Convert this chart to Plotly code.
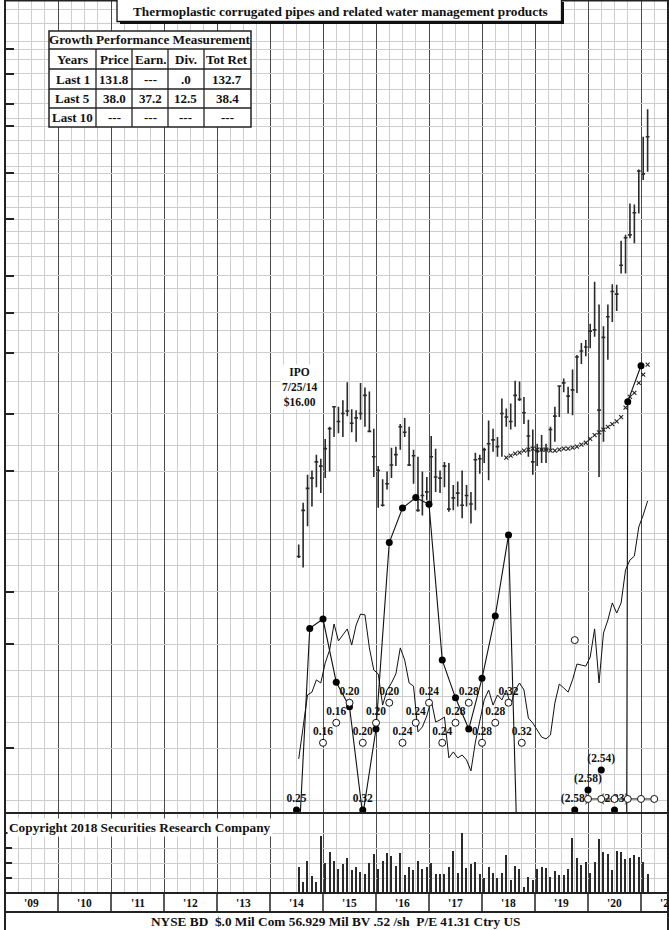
import math
import plotly.graph_objects as go

# ---------------- data ----------------
# monthly price bars, Jul 2014 .. Feb 2021
start_year, start_month, n_months = 2014, 7, 80
months = [start_year + (start_month - 1 + i + 0.5) / 12 for i in range(n_months)]

highs = [16.7, 19.8, 22.2, 22.6, 24.1, 23.7, 25.7, 27.0, 29.4, 29.3,
         30.1, 32.4, 29.0, 28.9, 32.3, 31.7, 31.2, 26.8, 23.0, 21.8,
         22.5, 24.8, 24.9, 27.3, 28.0, 27.0, 24.6, 23.9, 22.5, 22.0,
         26.0, 24.7, 22.6, 23.4, 23.3, 21.3, 21.6, 22.6, 21.3, 20.7,
         24.3, 24.1, 24.8, 27.7, 26.8, 25.9, 30.3, 29.1, 29.7, 32.6,
         32.5, 30.5, 27.8, 26.7, 25.2, 26.1, 25.2, 27.0, 29.3, 32.0,
         32.9, 31.8, 34.1, 36.2, 38.0, 38.5, 41.1, 48.8, 44.5, 40.7,
         44.5, 48.3, 48.2, 57.7, 59.1, 67.2, 66.9, 77.2, 88.2, 98.7]
lows = [15.8, 15.2, 18.0, 19.5, 21.1, 20.6, 21.9, 22.5, 25.9, 26.3,
        25.9, 28.2, 26.4, 25.4, 27.8, 27.0, 26.5, 22.0, 19.4, 19.5,
        20.9, 21.9, 23.0, 24.6, 25.9, 23.0, 21.4, 19.1, 18.8, 20.0,
        19.8, 20.7, 20.6, 21.1, 19.1, 19.2, 19.5, 18.6, 19.5, 18.2,
        19.2, 22.3, 23.3, 21.7, 24.4, 23.9, 23.9, 27.0, 26.7, 27.0,
        30.0, 27.3, 23.9, 22.2, 23.0, 23.3, 23.3, 24.6, 25.4, 28.1,
        31.1, 28.5, 28.3, 31.0, 34.9, 36.0, 37.2, 39.0, 22.0, 25.4,
        35.5, 41.4, 43.3, 50.5, 50.5, 58.3, 57.1, 64.5, 73.9, 76.5]
closes = [15.9, 19.2, 21.0, 21.9, 23.4, 23.0, 24.7, 26.8, 29.3, 27.6,
          28.5, 28.8, 27.4, 28.0, 28.5, 30.7, 26.5, 23.9, 22.6, 19.6,
          21.4, 23.1, 24.1, 27.0, 26.4, 23.1, 24.0, 19.2, 20.4, 20.7,
          23.9, 22.0, 21.9, 23.0, 19.3, 20.2, 20.6, 19.6, 20.4, 19.7,
          23.6, 23.7, 24.6, 25.2, 25.6, 24.9, 28.5, 28.1, 27.6, 30.7,
          30.2, 28.6, 26.0, 23.4, 24.4, 24.6, 24.6, 26.7, 28.2, 31.9,
          32.3, 30.6, 31.4, 35.9, 36.8, 37.4, 39.9, 40.1, 28.9, 38.9,
          42.3, 46.9, 46.4, 52.2, 58.4, 59.1, 64.7, 76.7, 75.8, 88.2]
volume = [26, 11, 32, 17, 11, 57, 30, 41, 32, 24,
          29, 35, 23, 26, 21, 19, 30, 39, 24, 32,
          40, 37, 27, 40, 18, 26, 23, 32, 24, 26,
          30, 19, 19, 19, 26, 42, 20, 60, 25, 29,
          31, 19, 15, 26, 20, 15, 20, 38, 13, 27,
          24, 6, 16, 13, 24, 26, 25, 16, 22, 18,
          18, 24, 55, 35, 28, 31, 20, 31, 54, 41,
          39, 23, 42, 41, 34, 35, 38, 36, 31, 19]
# x-marked line (starts Jun 2018)
xline_start = 47
xline = [23.8, 24.0, 24.2, 24.3, 24.5, 24.6, 24.7, 24.6, 24.6, 24.6,
         24.5, 24.5, 24.6, 24.7, 24.7, 24.8, 24.9, 25.1, 25.3, 25.7,
         26.1, 26.4, 26.7, 27.0, 27.3, 27.6, 28.1, 29.2, 30.5, 31.0,
         32.3, 33.4, 34.8]
# relative strength line (lower scale units)
rs = [1.58, 2.88, 4.04, 4.15, 4.62, 4.50, 5.27, 5.77, 6.77, 6.12,
      6.35, 6.58, 5.96, 6.73, 7.15, 7.12, 5.85, 5.00, 4.85, 3.65,
      4.23, 4.50, 4.85, 5.85, 5.38, 4.50, 4.38, 2.62, 2.81, 3.23,
      3.85, 3.00, 3.08, 3.19, 1.62, 1.85, 1.62, 1.73, 1.54, 1.12,
      2.23, 3.00, 3.85, 4.23, 3.65, 4.04, 3.85, 4.23, 3.65, 4.23,
      4.50, 4.23, 3.15, 2.96, 2.69, 2.42, 2.35, 2.50, 3.73, 4.46,
      4.31, 4.15, 4.62, 5.23, 5.19, 5.15, 5.50, 6.58, 4.50, 6.42,
      6.92, 7.58, 7.19, 7.58, 8.85, 9.23, 9.38, 10.50, 10.96, 11.50]
# earnings line (quarterly, lower scale units; below-range values run off the chart)
earn_line_x = [2014.57, 2014.75, 2015.0, 2015.25, 2015.5, 2015.75, 2016.0, 2016.25, 2016.5,
               2016.75, 2017.0, 2017.25, 2017.5, 2017.75, 2018.0, 2018.25, 2018.5, 2018.75,
               None, 2020.73, 2020.75, 2021.0]
earn_line_v = [-0.6, 6.60, 6.96, 4.53, 3.59, -0.6, 2.73, 9.90, 11.23,
               11.63, 11.37, 5.38, 3.93, 2.73, 4.68, 7.08, 10.19, -8.2,
               None, -0.6, 15.32, 16.70]
earn_dot_x = [2014.75, 2015.0, 2015.25, 2015.5, 2016.0, 2016.25, 2016.5, 2016.75, 2017.0,
              2017.25, 2017.5, 2017.75, 2018.0, 2018.25, 2018.5, 2020.0, 2020.25, 2020.75, 2021.0]
earn_dot_v = [6.60, 6.96, 4.53, 3.59, 2.73, 9.90, 11.23, 11.63, 11.37,
              5.38, 3.93, 2.73, 4.68, 7.08, 10.19, 0.38, 1.15, 15.32, 16.70]
earn_dot_lbl = [""] * 15 + ["(2.58)", "(2.54)", "", ""]
floor_x = [2014.5, 2015.75, 2019.75, 2020.5]
floor_lbl = ["0.25", "0.32", "(2.58)", "(2.33)"]
floor_v = -0.38
# dividends (quarterly, staggered labels)
div_x = [2015.0, 2015.25, 2015.5, 2015.75, 2016.0, 2016.25, 2016.5, 2016.75,
         2017.0, 2017.25, 2017.5, 2017.75, 2018.0, 2018.25, 2018.5, 2018.75]
div_lbl = ["0.16", "0.16", "0.20", "0.20", "0.20", "0.20", "0.24", "0.24",
           "0.24", "0.24", "0.28", "0.28", "0.28", "0.28", "0.32", "0.32"]
div_levels = [2.20, 2.97, 3.74]
extra_circle_x, extra_circle_v = [2019.75], [6.15]
chain_x = [2020.0, 2020.25, 2020.5, 2020.75, 2021.0, 2021.25]
chain_v = [0.04] * 6

year_labels = ["'09", "'10", "'11", "'12", "'13", "'14", "'15", "'16", "'17", "'18", "'19", "'20", "'21"]
first_year = 2009
price_ticks = [22.5, 28.5, 36.5, 43, 50, 63, 76, 92, 101, 114, 126]
price_grid = [17.5, 20, 22.5, 25, 28.5, 32.5, 36.5, 40, 43, 47.5, 50, 54, 57, 60, 63, 66, 69,
              73.5, 78, 82.5, 87, 92, 95, 101, 107, 114, 121, 130, 140, 148]
low_grid = list(range(0, 11))
low_ticks = [2, 6, 8]
vol_grid = [15, 30, 45, 60]

title = "Thermoplastic corrugated pipes and related water management products"
table_title = "Growth Performance Measurement"
table_rows = [["Years", "Price", "Earn.", "Div.", "Tot Ret"],
              ["Last 1", "131.8", "---", ".0", "132.7"],
              ["Last 5", "38.0", "37.2", "12.5", "38.4"],
              ["Last 10", "---", "---", "---", "---"]]
ipo_text = "IPO<br>7/25/14<br>$16.00"
copyright_text = "Copyright 2018 Securities Research Company"
footer = "NYSE BD  $.0 Mil Com 56.929 Mil BV .52 /sh  P/E 41.31 Ctry US"

# ---------------- layout helpers ----------------
W, H = 669, 930
ML, MR = 5, 1
def px(x):
    return (x - ML) / (W - ML - MR)
def py(y):
    return 1 - y / H

FONT = "Liberation Serif"
GRID = "#cdcdcd"
x_end = first_year + (W - ML - MR) / 53.0

fig = go.Figure()

fig.add_trace(go.Ohlc(x=months, open=closes, high=highs, low=lows, close=closes,
                      increasing=dict(line=dict(color="#2a2a2a", width=1.6)),
                      decreasing=dict(line=dict(color="#2a2a2a", width=1.6)),
                      tickwidth=0.42, xaxis="x", yaxis="y", hoverinfo="skip"))
fig.add_trace(go.Scatter(x=months[xline_start:xline_start + len(xline)], y=xline, mode="markers",
                         marker=dict(symbol="x-thin", size=4, line=dict(width=1.1, color="#222")),
                         xaxis="x", yaxis="y"))
fig.add_trace(go.Scatter(x=months, y=rs, mode="lines", line=dict(color="#111", width=1),
                         xaxis="x", yaxis="y2"))
fig.add_trace(go.Scatter(x=earn_line_x, y=earn_line_v, mode="lines", line=dict(color="#111", width=1.1),
                         connectgaps=False, xaxis="x", yaxis="y2"))
fig.add_trace(go.Scatter(x=earn_dot_x, y=earn_dot_v, mode="markers+text",
                         text=["<b>%s</b>" % t if t else "" for t in earn_dot_lbl],
                         textposition="top center",
                         textfont=dict(family=FONT, size=11.5, color="#111"),
                         marker=dict(size=7, color="#000"), cliponaxis=False,
                         xaxis="x", yaxis="y2"))
fig.add_trace(go.Scatter(x=floor_x, y=[floor_v] * len(floor_x), mode="markers+text",
                         text=["<b>%s</b>" % t for t in floor_lbl], textposition="top center",
                         textfont=dict(family=FONT, size=11.5, color="#111"),
                         marker=dict(size=7, color="#000"), cliponaxis=False,
                         xaxis="x", yaxis="y2"))
fig.add_trace(go.Scatter(x=div_x, y=[div_levels[i % 3] for i in range(len(div_x))],
                         mode="markers+text", text=["<b>%s</b>" % t for t in div_lbl],
                         textposition="top center",
                         textfont=dict(family=FONT, size=11.5, color="#111"),
                         marker=dict(size=7, color="white", line=dict(color="#111", width=1)),
                         cliponaxis=False, xaxis="x", yaxis="y2"))
fig.add_trace(go.Scatter(x=extra_circle_x, y=extra_circle_v, mode="markers",
                         marker=dict(size=7, color="white", line=dict(color="#111", width=1)),
                         xaxis="x", yaxis="y2"))
fig.add_trace(go.Scatter(x=chain_x, y=chain_v, mode="lines+markers", line=dict(color="#111", width=1),
                         marker=dict(size=7, color="white", line=dict(color="#111", width=1)),
                         cliponaxis=False, xaxis="x", yaxis="y2"))
fig.add_trace(go.Bar(x=months, y=volume, width=0.022, marker=dict(color="#2a2a2a", line=dict(width=0)),
                     xaxis="x2", yaxis="y3"))

xcommon = dict(range=[first_year, x_end], showticklabels=False, ticks="", tick0=first_year, dtick=1,
               showgrid=True, gridcolor="#4a4a4a", gridwidth=1.3, zeroline=False, showline=False,
               minor=dict(tick0=first_year, dtick=0.25, showgrid=True, gridcolor=GRID, gridwidth=1),
               automargin=False)

fig.update_layout(
    width=W, height=H, template="none", showlegend=False,
    margin=dict(l=ML, r=MR, t=0, b=0),
    paper_bgcolor="white", plot_bgcolor="white",
    font=dict(family=FONT, color="#111"),
    bargap=0,
    xaxis=dict(domain=[0, 1], anchor="y", rangeslider=dict(visible=False), **xcommon),
    xaxis2=dict(domain=[0, 1], anchor="y3", matches="x", **xcommon),
    yaxis=dict(domain=[py(813), py(1)], type="log",
               range=[math.log10(5.583), math.log10(153.5)],
               tickmode="array", tickvals=price_ticks, showticklabels=False,
               ticks="inside", ticklen=9, tickwidth=1.5, tickcolor="#222",
               showgrid=True, gridcolor=GRID, gridwidth=1,
               minor=dict(tickmode="array", tickvals=price_grid, showgrid=True, gridcolor=GRID,
                          gridwidth=1, ticks=""),
               zeroline=False, showline=False, automargin=False),
    yaxis2=dict(overlaying="y", side="left", range=[-0.5, 30.73],
                tickmode="array", tickvals=low_ticks, ticks="inside", ticklen=9, tickwidth=1.5,
                tickcolor="#222", showticklabels=False,
                showgrid=True, gridcolor=GRID, gridwidth=1,
                minor=dict(tickmode="array", tickvals=low_grid, showgrid=True, gridcolor=GRID,
                           gridwidth=1, ticks=""),
                zeroline=False, showline=False, automargin=False),
    yaxis3=dict(domain=[py(893), py(813)], anchor="x2", range=[0, 80],
                tickmode="array", tickvals=vol_grid, ticks="inside", ticklen=7, tickwidth=1.5,
                tickcolor="#222", showticklabels=False, showgrid=True, gridcolor=GRID,
                zeroline=False, showline=False, automargin=False),
)

shapes = []
line_dark = dict(color="#222", width=2)
# frame
shapes.append(dict(type="line", xref="paper", yref="paper", x0=0, x1=0, y0=0, y1=1, line=line_dark, layer="above"))
shapes.append(dict(type="line", xref="paper", yref="paper", x0=1, x1=1, y0=0, y1=1, line=line_dark, layer="above"))
shapes.append(dict(type="line", xref="paper", yref="paper", x0=0, x1=1, y0=py(0.5), y1=py(0.5), line=line_dark, layer="above"))
for yy, w in [(813, 2.2), (893, 1.8), (912, 1.8)]:
    shapes.append(dict(type="line", xref="paper", yref="paper", x0=0, x1=1, y0=py(yy), y1=py(yy),
                       line=dict(color="#222", width=w), layer="above"))
# year dividers in label row
for k in range(1, len(year_labels)):
    shapes.append(dict(type="line", xref="x2", yref="paper", x0=first_year + k, x1=first_year + k,
                       y0=py(912), y1=py(893), line=dict(color="#222", width=1.5), layer="above"))
# title box with shadow
shapes.append(dict(type="rect", xref="paper", yref="paper", x0=px(120), x1=px(564), y0=py(24), y1=py(2),
                   fillcolor="#111", line=dict(width=0), layer="above"))
shapes.append(dict(type="rect", xref="paper", yref="paper", x0=px(117), x1=px(561.5), y0=py(21.5), y1=py(-2),
                   fillcolor="white", line=dict(color="#111", width=1.3), layer="above"))
# growth table
tx = [49, 96, 132, 168, 204, 251]
ty = [31, 49, 69, 89, 108, 127]
shapes.append(dict(type="rect", xref="paper", yref="paper", x0=px(tx[0]), x1=px(tx[-1]), y0=py(ty[-1]), y1=py(ty[0]),
                   fillcolor="white", line=dict(color="#222", width=1.5), layer="above"))
for yy in ty[1:-1]:
    shapes.append(dict(type="line", xref="paper", yref="paper", x0=px(tx[0]), x1=px(tx[-1]), y0=py(yy), y1=py(yy),
                       line=dict(color="#222", width=1.3), layer="above"))
for xx in tx[1:-1]:
    shapes.append(dict(type="line", xref="paper", yref="paper", x0=px(xx), x1=px(xx), y0=py(ty[-1]), y1=py(ty[1]),
                       line=dict(color="#222", width=1.3), layer="above"))

ann = []
ann.append(dict(x=px(340), y=py(11.5), xref="paper", yref="paper", text="<b>%s</b>" % title, showarrow=False,
                font=dict(family=FONT, size=13.3, color="#111"), xanchor="center", yanchor="middle"))
ann.append(dict(x=px((tx[0] + tx[-1]) / 2), y=py((ty[0] + ty[1]) / 2), xref="paper", yref="paper",
                text="<b>%s</b>" % table_title, showarrow=False,
                font=dict(family=FONT, size=13.2, color="#111"), xanchor="center", yanchor="middle"))
for r, row in enumerate(table_rows):
    for c, cell in enumerate(row):
        ann.append(dict(x=px((tx[c] + tx[c + 1]) / 2), y=py((ty[r + 1] + ty[r + 2]) / 2),
                        xref="paper", yref="paper", text="<b>%s</b>" % cell, showarrow=False,
                        font=dict(family=FONT, size=13, color="#111"), xanchor="center", yanchor="middle"))
ann.append(dict(x=px(299), y=py(387), xref="paper", yref="paper", text="<b>%s</b>" % ipo_text, showarrow=False,
                font=dict(family=FONT, size=11.5, color="#111"), bgcolor="white", borderpad=1,
                xanchor="center", yanchor="middle"))
ann.append(dict(x=px(7), y=py(827), xref="paper", yref="paper", text="<b>%s</b>" % copyright_text, showarrow=False,
                font=dict(family=FONT, size=13.3, color="#111"), bgcolor="white", borderpad=1,
                xanchor="left", yanchor="middle"))
for k, lbl in enumerate(year_labels):
    ann.append(dict(x=first_year + k + 0.5, y=py(902.5), xref="x2", yref="paper", text="<b>%s</b>" % lbl,
                    showarrow=False, font=dict(family=FONT, size=11.5, color="#111"),
                    xanchor="center", yanchor="middle"))
ann.append(dict(x=px(336), y=py(921.5), xref="paper", yref="paper", text="<b>%s</b>" % footer, showarrow=False,
                font=dict(family=FONT, size=13.3, color="#111"), xanchor="center", yanchor="middle"))

fig.update_layout(shapes=shapes, annotations=ann)
fig.write_html("out.html", config={"displayModeBar": False},
               post_script="document.body.style.margin='0';document.body.style.overflow='hidden';")
